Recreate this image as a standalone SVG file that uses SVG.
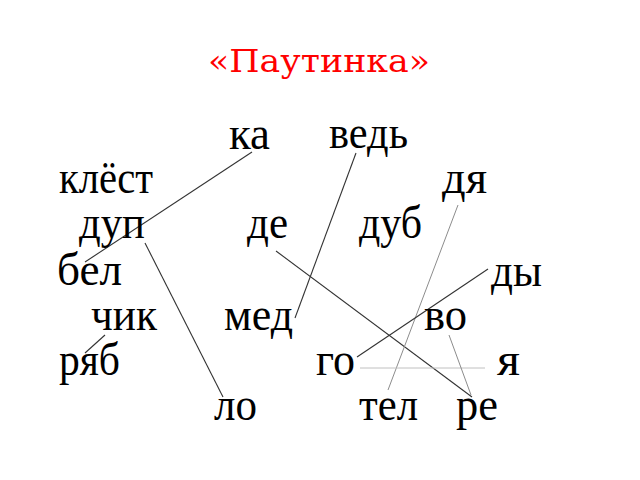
<svg xmlns="http://www.w3.org/2000/svg" width="640" height="480" viewBox="0 0 640 480">
<style>
.t{font-family:"DejaVu Serif","Liberation Serif",serif;font-size:32px;fill:#ff0000}
.w{font-family:"Liberation Serif","Times New Roman",serif;font-size:46px;fill:#000}
.d{stroke:#333;stroke-width:1.1;fill:none}
.g{stroke:#8c8c8c;stroke-width:1;fill:none}
.l{stroke:#c0c0c0;stroke-width:1;fill:none}
</style>
<rect width="640" height="480" fill="#fff"/>
<text class="t" x="208" y="72" textLength="222" lengthAdjust="spacingAndGlyphs">«Паутинка»</text>
<g id="connectors">
<line class="d" x1="252" y1="152" x2="85" y2="262"/>
<line class="d" x1="356" y1="153" x2="295" y2="318"/>
<line class="d" x1="145" y1="243" x2="223" y2="397"/>
<line class="d" x1="276" y1="251" x2="472" y2="397"/>
<line class="g" x1="458" y1="205" x2="388" y2="390"/>
<line class="d" x1="488" y1="269" x2="357" y2="357"/>
<line class="d" x1="105" y1="335" x2="85" y2="353"/>
<line class="l" x1="360" y1="368" x2="485" y2="368"/>
<line class="g" x1="449" y1="335" x2="471" y2="395"/>
</g>
<g id="n-ka"><text class="w" x="229" y="149" textLength="41" lengthAdjust="spacingAndGlyphs">ка</text></g>
<g id="n-ved"><text class="w" x="329" y="148" textLength="79" lengthAdjust="spacingAndGlyphs">ведь</text></g>
<g id="n-klest"><text class="w" x="59" y="193" textLength="94" lengthAdjust="spacingAndGlyphs">клёст</text></g>
<g id="n-dya"><text class="w" x="442" y="193" textLength="45" lengthAdjust="spacingAndGlyphs">дя</text></g>
<g id="n-dup"><text class="w" x="79" y="238" textLength="66" lengthAdjust="spacingAndGlyphs">дуп</text></g>
<g id="n-de"><text class="w" x="247" y="238" textLength="41" lengthAdjust="spacingAndGlyphs">де</text></g>
<g id="n-dub"><text class="w" x="359" y="238" textLength="63" lengthAdjust="spacingAndGlyphs">дуб</text></g>
<g id="n-bel"><text class="w" x="57" y="285" textLength="65" lengthAdjust="spacingAndGlyphs">бел</text></g>
<g id="n-dy"><text class="w" x="491" y="286" textLength="51" lengthAdjust="spacingAndGlyphs">ды</text></g>
<g id="n-chik"><text class="w" x="91" y="330" textLength="66" lengthAdjust="spacingAndGlyphs">чик</text></g>
<g id="n-med"><text class="w" x="224" y="330" textLength="69" lengthAdjust="spacingAndGlyphs">мед</text></g>
<g id="n-vo"><text class="w" x="424" y="330" textLength="43" lengthAdjust="spacingAndGlyphs">во</text></g>
<g id="n-ryab"><text class="w" x="59" y="375" textLength="61" lengthAdjust="spacingAndGlyphs">ряб</text></g>
<g id="n-go"><text class="w" x="316" y="375" textLength="39" lengthAdjust="spacingAndGlyphs">го</text></g>
<g id="n-ya"><text class="w" x="497" y="375" textLength="23" lengthAdjust="spacingAndGlyphs">я</text></g>
<g id="n-lo"><text class="w" x="214" y="420" textLength="43" lengthAdjust="spacingAndGlyphs">ло</text></g>
<g id="n-tel"><text class="w" x="359" y="420" textLength="59" lengthAdjust="spacingAndGlyphs">тел</text></g>
<g id="n-re"><text class="w" x="456" y="420" textLength="42" lengthAdjust="spacingAndGlyphs">ре</text></g>
</svg>
